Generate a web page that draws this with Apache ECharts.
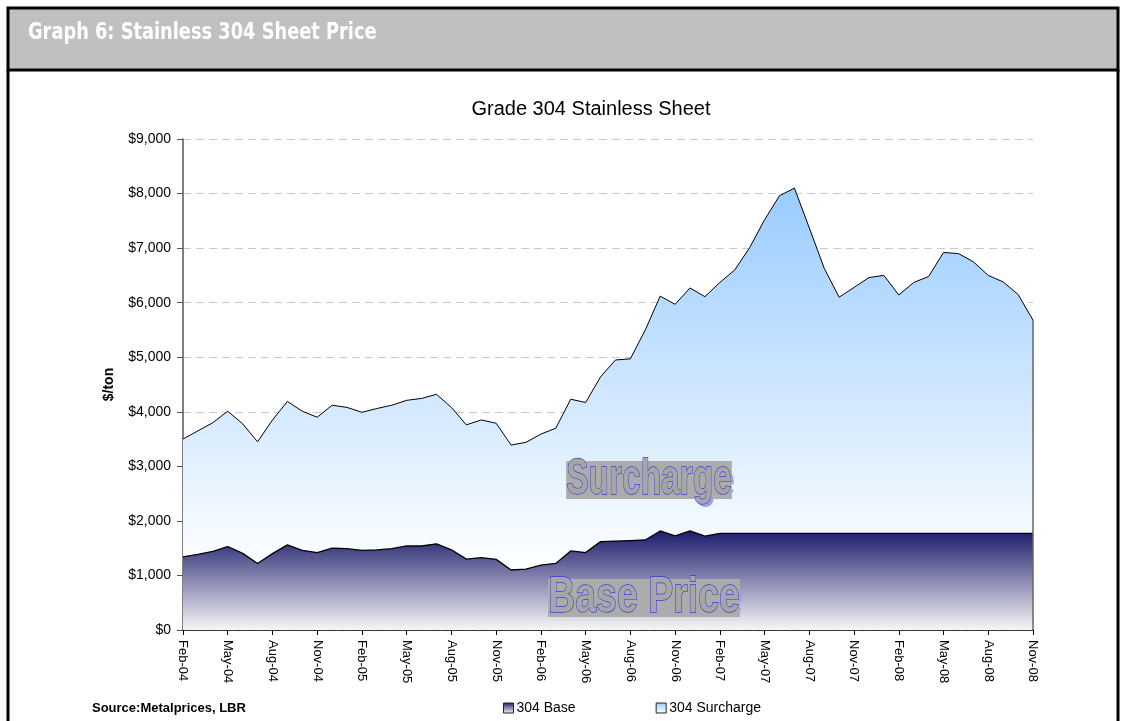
<!DOCTYPE html>
<html>
<head>
<meta charset="utf-8">
<script src="https://cdn.jsdelivr.net/npm/echarts@6/dist/echarts.min.js"></script>
<style>
  html, body { margin: 0; padding: 0; background: #fff; }
  #chart { width: 1125px; height: 721px; }
</style>
</head>
<body>
<div id="chart"></div>
<script>
// monthly, Feb-04 .. Nov-08
const months = [
  'Feb-04','Mar-04','Apr-04','May-04','Jun-04','Jul-04','Aug-04','Sep-04','Oct-04','Nov-04','Dec-04',
  'Jan-05','Feb-05','Mar-05','Apr-05','May-05','Jun-05','Jul-05','Aug-05','Sep-05','Oct-05','Nov-05','Dec-05',
  'Jan-06','Feb-06','Mar-06','Apr-06','May-06','Jun-06','Jul-06','Aug-06','Sep-06','Oct-06','Nov-06','Dec-06',
  'Jan-07','Feb-07','Mar-07','Apr-07','May-07','Jun-07','Jul-07','Aug-07','Sep-07','Oct-07','Nov-07','Dec-07',
  'Jan-08','Feb-08','Mar-08','Apr-08','May-08','Jun-08','Jul-08','Aug-08','Sep-08','Oct-08','Nov-08'
];

const basePrice = [
  1340, 1385, 1440, 1530, 1405, 1220, 1400, 1560, 1460, 1420, 1500,
  1490, 1460, 1470, 1490, 1540, 1540, 1580, 1470, 1300, 1325, 1295, 1100,
  1115, 1190, 1220, 1450, 1420, 1620, 1630, 1640, 1650, 1815, 1725, 1815,
  1720, 1770, 1770, 1770, 1770, 1770, 1770, 1770, 1770, 1770, 1770, 1770,
  1770, 1770, 1770, 1770, 1770, 1770, 1770, 1770, 1770, 1770, 1770
];

const surcharge = [
  2160, 2265, 2360, 2480, 2375, 2230, 2450, 2630, 2550, 2480, 2620,
  2590, 2530, 2590, 2630, 2670, 2705, 2740, 2610, 2460, 2525, 2495, 2290,
  2325, 2400, 2480, 2780, 2750, 3020, 3320, 3330, 3850, 4305, 4245, 4455,
  4390, 4600, 4830, 5240, 5750, 6190, 6330, 5600, 4860, 4330, 4510, 4690,
  4730, 4370, 4600, 4710, 5150, 5130, 4980, 4730, 4610, 4380, 3910
];

const yTicks = [0, 1000, 2000, 3000, 4000, 5000, 6000, 7000, 8000, 9000];

const baseFill = new echarts.graphic.LinearGradient(0, 0, 0, 1, [
  { offset: 0, color: '#1c1c6c' },
  { offset: 1, color: '#f7f7f7' }
]);
const surFill = new echarts.graphic.LinearGradient(0, 0, 0, 1, [
  { offset: 0, color: '#99ccff' },
  { offset: 1, color: '#ffffff' }
]);

const FONT = '"Liberation Sans", Arial, sans-serif';
const NARROW = '"DejaVu Sans Condensed", "Liberation Sans", sans-serif';
const last = months.length - 1;

function money(v) {
  return '$' + v.toLocaleString('en-US');
}

// wordart style labels (shadow + outlined grey text)
function wordArt(txt, cx, cy, sx) {
  return [
    {
      type: 'text', z: 100, x: cx + 3, y: cy + 3, scaleX: sx, silent: true,
      style: {
        text: txt, font: 'bold 50px ' + FONT, fill: '#9d9dff',
        align: 'center', verticalAlign: 'middle'
      }
    },
    {
      type: 'text', z: 101, x: cx, y: cy, scaleX: sx, silent: true,
      style: {
        text: txt, font: 'bold 50px ' + FONT, fill: '#a6a6a6',
        stroke: '#3a3ad8', lineWidth: 1.3, lineHeight: 38,
        backgroundColor: '#acacac',
        align: 'center', verticalAlign: 'middle'
      }
    }
  ];
}

const chart = echarts.init(document.getElementById('chart'));

chart.setOption({
  animation: false,
  backgroundColor: '#fff',
  title: {
    text: 'Grade 304 Stainless Sheet',
    left: 586, top: 94, textAlign: 'center',
    textStyle: { fontFamily: FONT, fontSize: 20, fontWeight: 'normal', color: '#000' }
  },
  legend: {
    left: 498, top: 696,
    itemWidth: 10, itemHeight: 10, itemGap: 80,
    icon: 'rect',
    textStyle: { fontFamily: FONT, fontSize: 14, color: '#000', padding: [0, 0, 0, -2] },
    data: [
      { name: '304 Base', itemStyle: { color: baseFill, borderColor: '#222', borderWidth: 1 } },
      { name: '304 Surcharge', itemStyle: { color: surFill, borderColor: '#222', borderWidth: 1 } }
    ]
  },
  grid: { left: 183, right: 92, top: 139, bottom: 91, containLabel: false },
  xAxis: {
    type: 'category',
    data: months,
    boundaryGap: false,
    axisLine: { lineStyle: { color: '#000', width: 1.5 } },
    axisTick: { interval: 2, length: 5, lineStyle: { color: '#000' } },
    axisLabel: {
      interval: 2, rotate: -90, margin: 10,
      fontFamily: FONT, fontSize: 13, color: '#000'
    },
    splitLine: { show: false }
  },
  yAxis: {
    type: 'value',
    min: yTicks[0], max: yTicks[yTicks.length - 1], interval: 1000,
    name: '$/ton', nameLocation: 'middle', nameGap: 67, nameRotate: 90,
    nameTextStyle: { fontFamily: FONT, fontSize: 14, fontWeight: 'bold', color: '#000' },
    axisLine: { show: true, lineStyle: { color: '#555', width: 1.5 } },
    axisTick: { show: true, length: 6, lineStyle: { color: '#555' } },
    axisLabel: { formatter: money, margin: 12, fontFamily: FONT, fontSize: 14, color: '#000' },
    splitLine: { show: true, lineStyle: { color: '#c8c8c8', type: [8, 5], width: 1 } }
  },
  series: [
    {
      name: '304 Base',
      type: 'line',
      stack: 'price',
      data: basePrice,
      symbol: 'none',
      lineStyle: { color: '#000', width: 1.3 },
      itemStyle: { color: '#1c1c6c' },
      areaStyle: { color: baseFill, opacity: 1 },
      z: 3
    },
    {
      name: '304 Surcharge',
      type: 'line',
      stack: 'price',
      data: surcharge,
      symbol: 'none',
      lineStyle: { color: '#000', width: 1 },
      itemStyle: { color: '#99ccff' },
      areaStyle: { color: surFill, opacity: 1 },
      z: 2,
      markLine: {
        silent: true, symbol: 'none',
        label: { show: false },
        lineStyle: { color: '#666', type: 'solid', width: 1.5 },
        data: [[
          { coord: [months[last], 0] },
          { coord: [months[last], basePrice[last] + surcharge[last]] }
        ]]
      }
    }
  ],
  graphic: [
    {
      type: 'rect', z: 50, silent: true,
      shape: { x: 8, y: 8, width: 1110, height: 62 },
      style: { fill: '#c0c0c0', stroke: '#000', lineWidth: 3 }
    },
    {
      type: 'line', z: 50, silent: true,
      shape: { x1: 8, y1: 70, x2: 8, y2: 730 },
      style: { stroke: '#000', lineWidth: 3 }
    },
    {
      type: 'line', z: 50, silent: true,
      shape: { x1: 1118, y1: 70, x2: 1118, y2: 730 },
      style: { stroke: '#000', lineWidth: 3 }
    },
    {
      type: 'text', z: 51, x: 28, y: 33, scaleX: 0.86, silent: true,
      style: {
        text: 'Graph 6: Stainless 304 Sheet Price',
        font: 'bold 23px ' + NARROW, fill: '#fff',
        align: 'left', verticalAlign: 'middle'
      }
    },
    {
      type: 'text', z: 51, x: 92, y: 708, silent: true,
      style: {
        text: 'Source:Metalprices, LBR',
        font: 'bold 13px ' + FONT, fill: '#000',
        align: 'left', verticalAlign: 'middle'
      }
    }
  ].concat(wordArt('Surcharge', 649, 480, 0.67), wordArt('Base Price', 644, 598, 0.75))
});
</script>
</body>
</html>
